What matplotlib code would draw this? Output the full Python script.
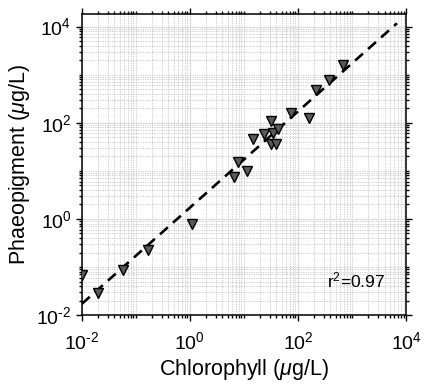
import numpy as np
import matplotlib
matplotlib.use('Agg')
import matplotlib.pyplot as plt
from matplotlib.ticker import LogLocator, NullFormatter, FuncFormatter

plt.rcParams['font.family'] = ['Liberation Sans', 'DejaVu Sans']
plt.rcParams['mathtext.fontset'] = 'custom'
plt.rcParams['mathtext.rm'] = 'Liberation Sans'
plt.rcParams['mathtext.it'] = 'Liberation Sans:italic'

# Data (ug/L)
chlorophyll = [0.010, 0.020, 0.058, 0.165, 1.07, 6.6, 7.8, 11.5, 14.9, 23.8,
               31.2, 34.9, 43, 31.2, 39, 73, 162, 215, 380, 690]
phaeopigment = [0.068, 0.029, 0.086, 0.224, 0.78, 7.3, 15, 10, 45, 58,
                108, 60, 73, 37, 37, 157, 125, 476, 770, 1580]

# regression line (log10 space) and its x extent
fit_slope = 1.0
fit_intercept = 0.235
fit_x = [0.01, 6800]

r2_text = 'r$^2$=0.97'
decade_ticks = [1e-2, 1e0, 1e2, 1e4]


def pow_label(v, pos):
    e = int(round(np.log10(v)))
    if e < 0:
        return r'$10^{\text{-}%d}$' % (-e)
    return r'$10^{%d}$' % e


fig = plt.figure(figsize=(4.31, 3.90), dpi=100)
ax = fig.add_axes([0.190, 0.192, 0.752, 0.772])

ax.set_xscale('log')
ax.set_yscale('log')
ax.set_xlim(1e-2, 1e4)
ax.set_ylim(1e-2, 10 ** 4.26)

ax.set_xticks(decade_ticks)
ax.set_yticks(decade_ticks)
ax.xaxis.set_major_formatter(FuncFormatter(pow_label))
ax.yaxis.set_major_formatter(FuncFormatter(pow_label))
ax.xaxis.set_minor_locator(LogLocator(base=10, subs=np.arange(1, 10), numticks=100))
ax.yaxis.set_minor_locator(LogLocator(base=10, subs=np.arange(1, 10), numticks=100))
ax.xaxis.set_minor_formatter(NullFormatter())
ax.yaxis.set_minor_formatter(NullFormatter())

ax.grid(which='major', color='#dcdcdc', linestyle='-', linewidth=0.9)
ax.grid(which='minor', color='#a8a8a8', linestyle=(0, (1, 1.5)), linewidth=0.5)
ax.set_axisbelow(True)

# fitted line
fx = np.array(fit_x)
fy = 10 ** (fit_intercept + fit_slope * np.log10(fx))
ax.plot(fx, fy, color='black', linewidth=1.9, linestyle=(0, (4, 2.6)), zorder=2)

ax.plot(chlorophyll, phaeopigment, linestyle='none', marker='v',
        markersize=7.5, markerfacecolor='#5a5a5a', markeredgecolor='black',
        markeredgewidth=1.0, zorder=3)

ax.text(0.755, 0.115, r2_text, transform=ax.transAxes, fontsize=12.5,
        ha='left', va='center')

ax.tick_params(which='both', direction='out', top=True, right=True,
               labelsize=14, width=1.0)
ax.tick_params(which='major', length=4.5)
ax.tick_params(which='minor', length=2.5)
ax.tick_params(axis='x', which='major', pad=7)
ax.tick_params(axis='y', which='major', pad=3)

for sp in ax.spines.values():
    sp.set_linewidth(1.1)

ax.set_xlabel(r'Chlorophyll ($\mu$g/L)', fontsize=15.5, labelpad=3)
ax.set_ylabel(r'Phaeopigment ($\mu$g/L)', fontsize=15.5, labelpad=3)

fig.savefig('out.png', dpi=100)
